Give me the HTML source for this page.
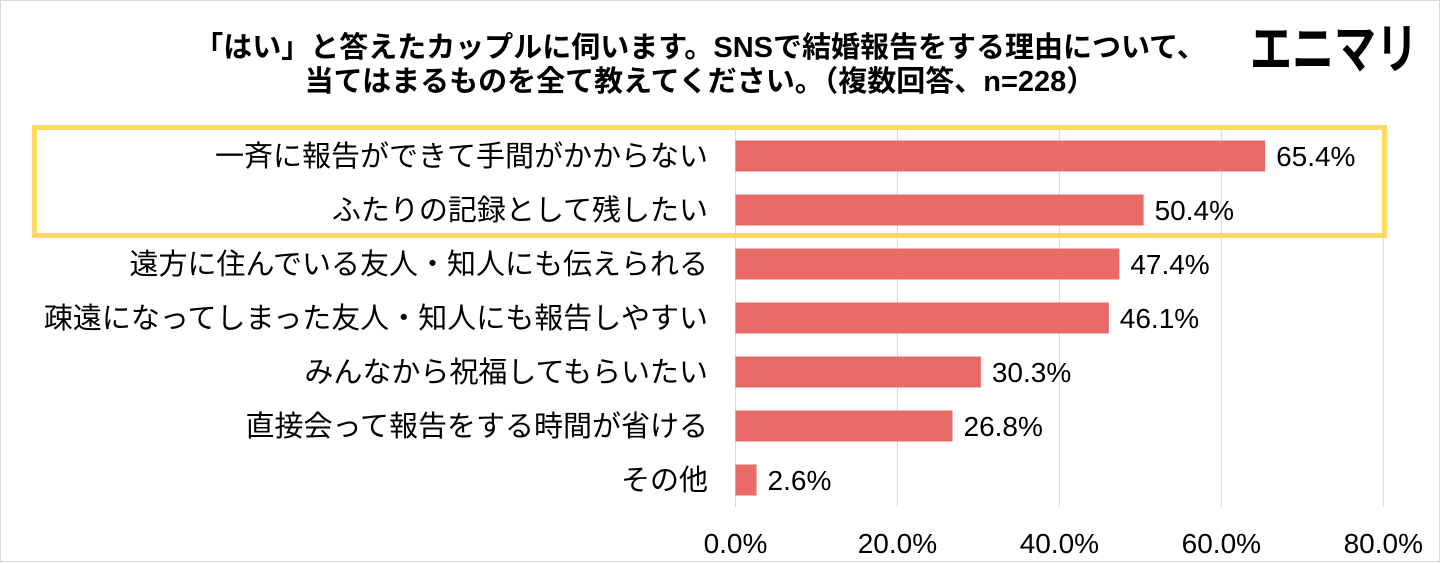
<!DOCTYPE html>
<html><head><meta charset="utf-8">
<style>
html,body{margin:0;padding:0;background:#fff;}
svg{display:block;}
text{font-family:"Liberation Sans","Noto Sans CJK JP",sans-serif;}
</style></head>
<body>
<svg id="chart" width="1440" height="563" viewBox="0 0 1440 563" xmlns="http://www.w3.org/2000/svg">
<rect x="0.5" y="0.5" width="1439" height="561" fill="#fff" stroke="#d9d9d9" stroke-width="1"/>
<text x="700" y="57" text-anchor="middle" font-size="29" font-weight="bold" fill="#000">「はい」と答えたカップルに伺います。SNSで結婚報告をする理由について、</text>
<text x="700" y="91" text-anchor="middle" font-size="29" font-weight="bold" fill="#000">当てはまるものを全て教えてください。（複数回答、n=228）</text>
<text x="1334" y="68" text-anchor="middle" font-size="54" font-weight="bold" fill="#000" textLength="168" lengthAdjust="spacingAndGlyphs">エニマリ</text>
<g id="grid"></g>
<g id="bars"></g>
<rect x="34.5" y="127.5" width="1350" height="108" fill="none" stroke="#FFD966" stroke-width="5"/>
</svg>
<script>
const categories = ["一斉に報告ができて手間がかからない","ふたりの記録として残したい","遠方に住んでいる友人・知人にも伝えられる","疎遠になってしまった友人・知人にも報告しやすい","みんなから祝福してもらいたい","直接会って報告をする時間が省ける","その他"];
const values = [65.4,50.4,47.4,46.1,30.3,26.8,2.6];
const ticks = [0,20,40,60,80];
const tickLabels = ["0.0%","20.0%","40.0%","60.0%","80.0%"];

const NS="http://www.w3.org/2000/svg";
const x0=735.5, x1=1383.3, xmax=80;
const xs=v=>x0+(v/xmax)*(x1-x0);
const rowTop=129, rowStep=54, barH=31;
const ys=i=>rowTop+i*rowStep+rowStep/2;
const grid=document.getElementById('grid');
const bars=document.getElementById('bars');
function mk(tag,attrs,parent){const e=document.createElementNS(NS,tag);for(const k in attrs)e.setAttribute(k,attrs[k]);parent.appendChild(e);return e;}
ticks.forEach((t,i)=>{
  const l=mk('line',{x1:xs(t),x2:xs(t),y1:129,y2:507,stroke:'#d9d9d9','stroke-width':1},grid);
  
  
  const tx=mk('text',{x:xs(t),y:553,'text-anchor':'middle','font-size':28,fill:'#000'},grid);
  
  
  tx.textContent=tickLabels[i];
});
categories.forEach((c,i)=>{
  const cy=ys(i);
  const lb=mk('text',{x:708,y:cy+10,'text-anchor':'end','font-size':29,fill:'#000'},bars);
  
  
  lb.textContent=c;
  const r=mk('rect',{x:x0,y:cy-barH/2,width:xs(values[i])-x0,height:barH,fill:'#E86B68'},bars);
  
  
  const v=mk('text',{x:xs(values[i])+11,y:cy+10,'font-size':28,fill:'#000'},bars);
  
  
  v.textContent=values[i].toFixed(1)+'%';
});
</script>
</body></html>
